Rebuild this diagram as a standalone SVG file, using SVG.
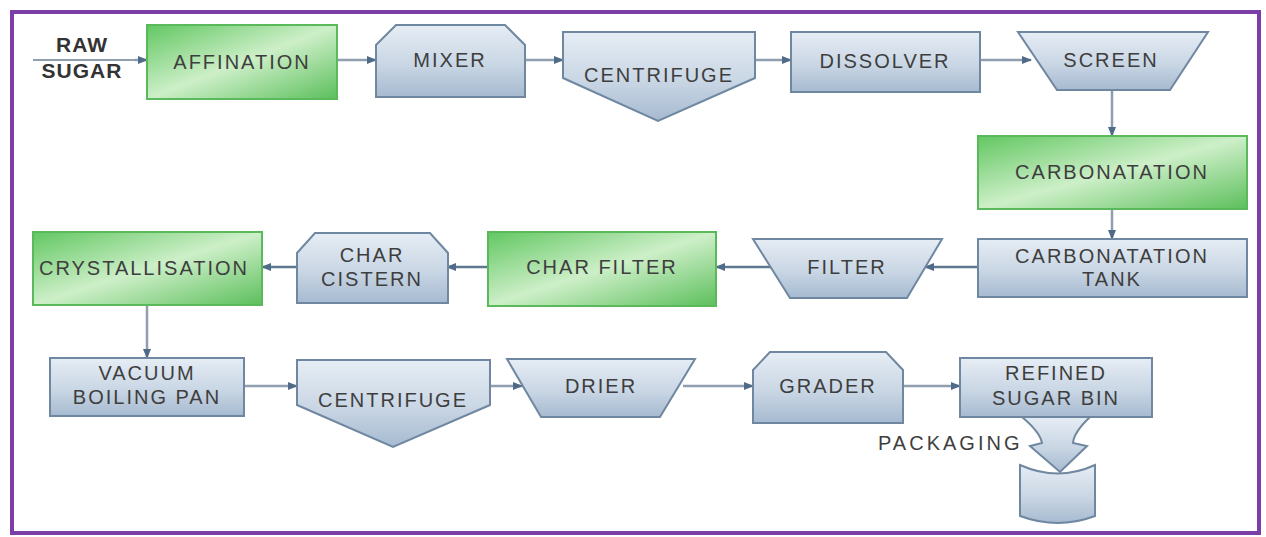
<svg xmlns="http://www.w3.org/2000/svg" width="1266" height="537" viewBox="0 0 1266 537">
  <defs>
    <linearGradient id="blueFill" x1="0" y1="0" x2="0" y2="1">
      <stop offset="0" stop-color="#E6EDF5"/>
      <stop offset="0.55" stop-color="#C9D6E4"/>
      <stop offset="1" stop-color="#A6BAD0"/>
    </linearGradient>
    <linearGradient id="greenFill" x1="0" y1="0" x2="1" y2="1">
      <stop offset="0" stop-color="#62C762"/>
      <stop offset="0.5" stop-color="#CDEFC8"/>
      <stop offset="1" stop-color="#5CBF5C"/>
    </linearGradient>
    <marker id="arr" viewBox="0 0 10 10" refX="9" refY="5" markerWidth="4" markerHeight="4" orient="auto">
      <path d="M0,1 L10,5 L0,9 Z" fill="#4F6B87"/>
    </marker>
    <style>
      .box { fill: url(#blueFill); stroke: #6F87A0; stroke-width: 2; }
      .green { fill: url(#greenFill); stroke: #5AB95A; stroke-width: 2; }
      .lbl { font-family: "Liberation Sans", Arial, sans-serif; font-size: 20px; fill: #3E3E3E; text-anchor: middle; letter-spacing: 2px; }
      .raw { font-family: "Liberation Sans", Arial, sans-serif; font-size: 21px; font-weight: bold; fill: #333; text-anchor: middle; letter-spacing: 1px; }
      .conn { fill: none; stroke: #8F9FB0; stroke-width: 2.5; marker-end: url(#arr); }
      .conn.dark { stroke: #5E7891; }
    </style>
  </defs>

  <rect x="0" y="0" width="1266" height="537" fill="#FFFFFF"/>
  <!-- frame -->
  <rect x="12" y="12" width="1247" height="521" fill="none" stroke="#7A3EA6" stroke-width="4"/>

  <!-- connectors -->
  <g id="connectors">
    <line x1="33" y1="60" x2="135" y2="60" stroke="#8F9FB0" stroke-width="2"/>
    <path class="conn" d="M135,60 L147,60"/>
    <path class="conn" d="M337,60 L376,60"/>
    <path class="conn" d="M525,60 L563,60"/>
    <path class="conn" d="M755,60 L791,60"/>
    <path class="conn" d="M980,60 L1031,60"/>
    <path class="conn" d="M1112,90 L1112,136"/>
    <path class="conn" d="M1112,209 L1112,239"/>
    <path class="conn dark" d="M978,267 L925,267"/>
    <path class="conn dark" d="M773,267 L716,267"/>
    <path class="conn dark" d="M488,267 L447,267"/>
    <path class="conn dark" d="M297,267 L262,267"/>
    <path class="conn" d="M147,305 L147,358"/>
    <path class="conn" d="M244,386 L297,386"/>
    <path class="conn" d="M490,386 L522,386"/>
    <path class="conn" d="M683,386 L753,386"/>
    <path class="conn" d="M903,386 L960,386"/>
  </g>

  <g id="raw-sugar">
    <text class="raw" x="82" y="52">RAW</text>
    <text class="raw" x="82" y="78">SUGAR</text>
  </g>

  <g id="affination">
    <rect class="green" x="147" y="25" width="190" height="74"/>
    <text class="lbl" x="242" y="69">AFFINATION</text>
  </g>

  <g id="mixer">
    <path class="box" d="M376,45 L396,25 L505,25 L525,45 L525,97 L376,97 Z"/>
    <text class="lbl" x="450" y="67">MIXER</text>
  </g>

  <g id="centrifuge-1">
    <path class="box" d="M563,32 L755,32 L755,78 L658,121 L563,78 Z"/>
    <text class="lbl" x="659" y="82">CENTRIFUGE</text>
  </g>

  <g id="dissolver">
    <rect class="box" x="791" y="32" width="189" height="60"/>
    <text class="lbl" x="885" y="68">DISSOLVER</text>
  </g>

  <g id="screen">
    <path class="box" d="M1018,32 L1208,32 L1170,90 L1057,90 Z"/>
    <text class="lbl" x="1111" y="67">SCREEN</text>
  </g>

  <g id="carbonatation">
    <rect class="green" x="978" y="136" width="269" height="73"/>
    <text class="lbl" x="1112" y="179">CARBONATATION</text>
  </g>

  <g id="carbonatation-tank">
    <rect class="box" x="978" y="239" width="269" height="58"/>
    <text class="lbl" x="1112" y="263">CARBONATATION</text>
    <text class="lbl" x="1112" y="286">TANK</text>
  </g>

  <g id="filter">
    <path class="box" d="M753,239 L942,239 L907,298 L790,298 Z"/>
    <text class="lbl" x="847" y="274">FILTER</text>
  </g>

  <g id="char-filter">
    <rect class="green" x="488" y="232" width="228" height="74"/>
    <text class="lbl" x="602" y="274">CHAR FILTER</text>
  </g>

  <g id="char-cistern">
    <path class="box" d="M297,253 L315,233 L430,233 L448,253 L448,303 L297,303 Z"/>
    <text class="lbl" x="372" y="262">CHAR</text>
    <text class="lbl" x="372" y="286">CISTERN</text>
  </g>

  <g id="crystallisation">
    <rect class="green" x="33" y="232" width="229" height="73"/>
    <text class="lbl" x="144" y="275">CRYSTALLISATION</text>
  </g>

  <g id="vacuum-boiling-pan">
    <rect class="box" x="50" y="358" width="194" height="58"/>
    <text class="lbl" x="147" y="380">VACUUM</text>
    <text class="lbl" x="147" y="404">BOILING PAN</text>
  </g>

  <g id="centrifuge-2">
    <path class="box" d="M297,360 L490,360 L490,405 L393,447 L297,405 Z"/>
    <text class="lbl" x="393" y="407">CENTRIFUGE</text>
  </g>

  <g id="drier">
    <path class="box" d="M507,359 L695,359 L660,417 L541,417 Z"/>
    <text class="lbl" x="601" y="393">DRIER</text>
  </g>

  <g id="grader">
    <path class="box" d="M753,370 L770,352 L886,352 L903,370 L903,423 L753,423 Z"/>
    <text class="lbl" x="828" y="393">GRADER</text>
  </g>

  <g id="refined-sugar-bin">
    <rect class="box" x="960" y="358" width="192" height="59"/>
    <text class="lbl" x="1056" y="380">REFINED</text>
    <text class="lbl" x="1056" y="405">SUGAR BIN</text>
  </g>

  <g id="packaging">
    <path class="box" d="M1022,417 L1090,417 Q1074,432 1073,443 L1087,446 L1060,472 L1030,446 L1042,443 Q1040,432 1022,417 Z"/>
    <path class="box" d="M1020,465 Q1058,482 1095,465 L1095,516 Q1058,530 1020,516 Z"/>
    <text class="lbl" x="878" y="450" style="text-anchor:start;letter-spacing:3px">PACKAGING</text>
  </g>
</svg>
